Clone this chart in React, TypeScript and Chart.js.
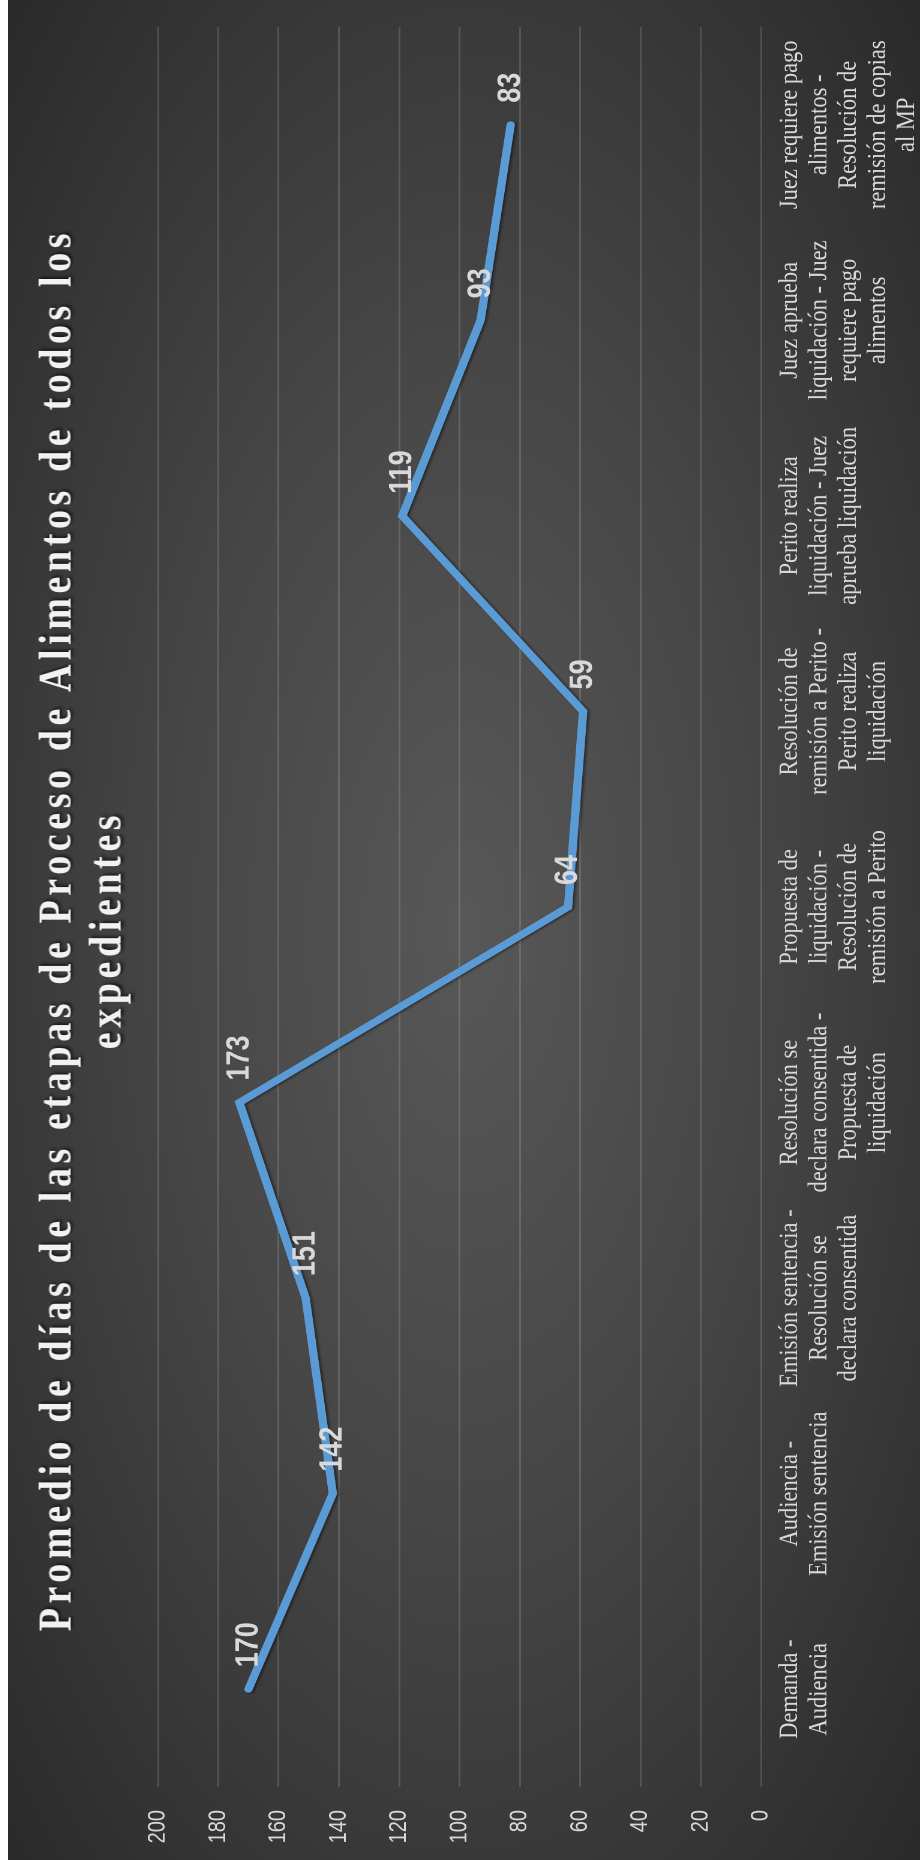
import React, { useEffect, useRef } from 'react';
import { Chart, registerables } from 'chart.js';

Chart.register(...registerables);

// ---- data ----
const titleLines: string[] = [
  'Promedio de días de las etapas de Proceso de Alimentos de todos los',
  'expedientes',
];

const categories: string[][] = [
  ['Demanda -', 'Audiencia'],
  ['Audiencia -', 'Emisión sentencia'],
  ['Emisión sentencia -', 'Resolución se', 'declara consentida'],
  ['Resolución se', 'declara consentida -', 'Propuesta de', 'liquidación'],
  ['Propuesta de', 'liquidación -', 'Resolución de', 'remisión a Perito'],
  ['Resolución de', 'remisión a Perito -', 'Perito realiza', 'liquidación'],
  ['Perito realiza', 'liquidación - Juez', 'aprueba liquidación'],
  ['Juez aprueba', 'liquidación - Juez', 'requiere pago', 'alimentos'],
  ['Juez requiere pago', 'alimentos -', 'Resolución de', 'remisión de copias', 'al MP'],
];

const values: number[] = [170, 142, 151, 173, 64, 59, 119, 93, 83];

const yMin = 0;
const yMax = 200;
const yStep = 20;

// ---- layout (unrotated frame) ----
const W = 1860;
const STRETCH = 1.2;
const H = 912 / STRETCH;

const shadowPlugin = {
  id: 'lineShadow',
  beforeDatasetDraw(chart: any) {
    const ctx = chart.ctx;
    ctx.save();
    ctx.shadowColor = 'rgba(0,0,0,0.55)';
    ctx.shadowBlur = 5;
    ctx.shadowOffsetX = -1;
    ctx.shadowOffsetY = 3;
  },
  afterDatasetDraw(chart: any) {
    chart.ctx.restore();
  },
};

const valueLabelPlugin = {
  id: 'valueLabels',
  afterDatasetsDraw(chart: any) {
    const ctx = chart.ctx;
    const meta = chart.getDatasetMeta(0);
    ctx.save();
    ctx.font = 'bold 27px "Liberation Sans", Arial, sans-serif';
    ctx.fillStyle = '#d9d9d9';
    ctx.textAlign = 'left';
    ctx.textBaseline = 'middle';
    meta.data.forEach((pt: any, i: number) => {
      ctx.fillText(String(values[i]), pt.x + 22, pt.y);
    });
    ctx.restore();
  },
};

export default function App() {
  const canvasRef = useRef<HTMLCanvasElement | null>(null);

  useEffect(() => {
    if (!canvasRef.current) return;
    const chart = new Chart(canvasRef.current, {
      type: 'line',
      data: {
        labels: categories,
        datasets: [
          {
            data: values,
            borderColor: '#5b9bd5',
            borderWidth: 7,
            pointRadius: 0,
            pointHoverRadius: 0,
            tension: 0,
            fill: false,
            borderCapStyle: 'round',
            borderJoinStyle: 'miter',
          },
        ],
      },
      options: {
        animation: false,
        responsive: false,
        maintainAspectRatio: false,
        devicePixelRatio: 2,
        layout: { padding: { top: 125, right: 27, left: 0, bottom: 0 } },
        plugins: {
          legend: { display: false },
          title: { display: false },
          tooltip: { enabled: false },
        },
        scales: {
          x: {
            offset: true,
            grid: { display: false, drawTicks: false },
            border: { display: false },
            ticks: {
              autoSkip: false,
              maxRotation: 0,
              minRotation: 0,
              padding: 12,
              color: '#d9d9d9',
              font: {
                family: '"Liberation Serif", "Times New Roman", serif',
                size: 22.5,
                lineHeight: '24.4px',
              },
            },
            afterFit: (scale: any) => {
              scale.height = H - 627.5;
            },
          },
          y: {
            min: yMin,
            max: yMax,
            grid: {
              color: 'rgba(255,255,255,0.14)',
              lineWidth: 1.5,
              drawTicks: false,
            },
            border: { display: false },
            ticks: {
              stepSize: yStep,
              padding: 23,
              color: '#d9d9d9',
              font: { family: '"Liberation Sans", Arial, sans-serif', size: 20 },
            },
            afterFit: (scale: any) => {
              scale.width = 73;
            },
          },
        },
      },
      plugins: [shadowPlugin, valueLabelPlugin],
    });
    return () => chart.destroy();
  }, []);

  return (
    <div
      style={{
        position: 'fixed',
        left: 0,
        top: 0,
        width: 920,
        height: 1860,
        overflow: 'hidden',
        background: '#ffffff',
      }}
    >
      <div
        style={{
          position: 'absolute',
          left: 8,
          top: 0,
          width: W,
          height: H,
          transformOrigin: '0 0',
          transform: `translate(0px, ${W}px) rotate(-90deg) scale(1, ${STRETCH})`,
          background:
            'radial-gradient(ellipse farthest-corner at 50% 50%, #585858 0%, #464646 45%, #2a2a2a 100%)',
          overflow: 'hidden',
        }}
      >
        <canvas
          ref={canvasRef}
          width={W}
          height={H}
          style={{ position: 'absolute', left: 0, top: 0, width: W, height: H }}
        />
        <div
          style={{
            position: 'absolute',
            top: 18,
            left: 0,
            width: W,
            textAlign: 'center',
            fontFamily: '"Liberation Serif", "Times New Roman", serif',
            fontWeight: 'bold',
            fontSize: 38,
            letterSpacing: '4.6px',
            lineHeight: '42px',
            color: '#f2f2f2',
            textShadow: '2px 2px 3px rgba(0,0,0,0.6)',
            whiteSpace: 'nowrap',
          }}
        >
          {titleLines.map((l, i) => (
            <div key={i}>{l}</div>
          ))}
        </div>
      </div>
    </div>
  );
}
